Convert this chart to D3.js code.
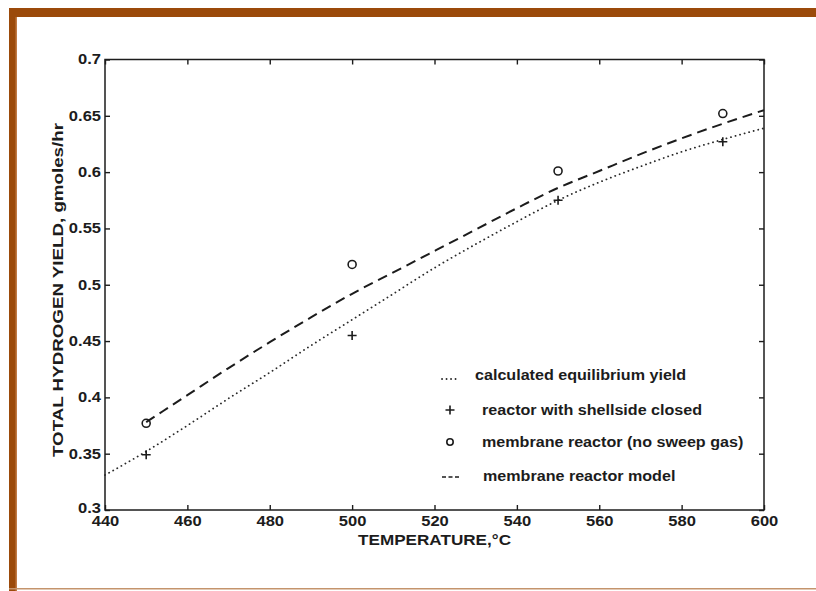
<!DOCTYPE html>
<html><head><meta charset="utf-8">
<script src="https://cdn.jsdelivr.net/npm/d3@7"></script>
<style>
body{margin:0;background:#fff}
text{font-family:"Liberation Sans",Arial,Helvetica,sans-serif;font-weight:bold;fill:#1c1c1c}
</style>
</head><body>
<svg id="chart" width="816" height="591"></svg>
<script>
// ---- data ----
const pointTemps = [450, 500, 550, 590];
const shellsideClosed = [0.349, 0.455, 0.575, 0.627];
const membraneNoSweep = [0.377, 0.518, 0.601, 0.652];
const equilTemps = [440,450,460,470,480,490,500,510,520,530,540,550,560,570,580,590,600];
const equilYield = [0.331,0.352,0.375,0.399,0.422,0.446,0.469,0.492,0.515,0.536,0.556,0.575,0.591,0.605,0.618,0.629,0.639];
const modelTemps = [450,460,470,480,490,500,510,520,530,540,550,560,570,580,590,600];
const modelYield = [0.378,0.402,0.426,0.449,0.471,0.492,0.511,0.530,0.549,0.568,0.586,0.601,0.616,0.630,0.643,0.655];
const xTickValues = [440,460,480,500,520,540,560,580,600];
const yTickValues = [0.3,0.35,0.4,0.45,0.5,0.55,0.6,0.65,0.7];
const legendLabels = ["calculated equilibrium yield","reactor with shellside closed","membrane reactor (no sweep gas)","membrane reactor model"];
const xTitle = "TEMPERATURE,\u00B0C";
const yTitle = "TOTAL HYDROGEN YIELD, gmoles/hr";

// ---- layout ----
const svg = d3.select("#chart");
const x = d3.scaleLinear().domain([440,600]).range([105,764]);
const y = d3.scaleLinear().domain([0.3,0.7]).range([510,59.5]);
const ink = "#1c1c1c";

function stretch(sel, f){
  sel.each(function(){
    const w = this.getComputedTextLength();
    d3.select(this).attr("textLength", w*f).attr("lengthAdjust","spacingAndGlyphs");
  });
}

// slide frame
svg.append("rect").attr("x",0).attr("y",0).attr("width",816).attr("height",591).attr("fill","#fff");
svg.append("rect").attr("x",9).attr("y",8).attr("width",807).attr("height",9).attr("fill","#9b4a0a");
svg.append("rect").attr("x",9).attr("y",8).attr("width",8).attr("height",583).attr("fill","#9b4a0a");
svg.append("rect").attr("x",15.5).attr("y",17).attr("width",1.5).attr("height",574).attr("fill","#c07a45");
svg.append("rect").attr("x",9).attr("y",588).attr("width",807).attr("height",1.5).attr("fill","#c4946c");

// axes
const gB = svg.append("g").attr("transform",`translate(0,${y(0.3)})`)
  .call(d3.axisBottom(x).tickValues(xTickValues).tickSizeInner(-5).tickSizeOuter(0).tickPadding(6).tickFormat(d3.format("d")));
const gT = svg.append("g").attr("transform",`translate(0,${y(0.7)})`)
  .call(d3.axisTop(x).tickValues(xTickValues).tickSizeInner(-5).tickSizeOuter(0).tickFormat(""));
const gL = svg.append("g").attr("transform",`translate(${x(440)},0)`)
  .call(d3.axisLeft(y).tickValues(yTickValues).tickSizeInner(-5).tickSizeOuter(0).tickPadding(4).tickFormat(d3.format(".2~f")));
const gR = svg.append("g").attr("transform",`translate(${x(600)},0)`)
  .call(d3.axisRight(y).tickValues(yTickValues).tickSizeInner(-5).tickSizeOuter(0).tickFormat(""));
[gB,gT,gL,gR].forEach(g=>{
  g.select(".domain").remove();
  g.selectAll("line").attr("stroke",ink).attr("stroke-width",1.4);
  g.selectAll("text").attr("font-size",14).attr("fill",ink).style("font-family",null);
  stretch(g.selectAll("text"),1.18);
});
// lift the lowest y label slightly, as in the reference
gL.selectAll("text").filter(d=>d===0.3).attr("dy","0.2em");
svg.append("rect").attr("x",x(440)).attr("y",y(0.7)).attr("width",x(600)-x(440)).attr("height",y(0.3)-y(0.7))
  .attr("fill","none").attr("stroke",ink).attr("stroke-width",1.5);

// titles
const xt = svg.append("text").attr("x",(x(440)+x(600))/2).attr("y",545).attr("text-anchor","middle").attr("font-size",14).text(xTitle);
xt.attr("textLength",153).attr("lengthAdjust","spacingAndGlyphs");
const yt = svg.append("text").attr("transform","translate(63,290) rotate(-90)").attr("text-anchor","middle").attr("font-size",14).text(yTitle);
yt.attr("textLength",334).attr("lengthAdjust","spacingAndGlyphs");

// lines
const line = d3.line().x(d=>x(d[0])).y(d=>y(d[1])).curve(d3.curveMonotoneX);
svg.append("path").datum(d3.zip(equilTemps,equilYield)).attr("d",line)
  .attr("fill","none").attr("stroke","#2a2a2a").attr("stroke-width",1.8).attr("stroke-linecap","round").attr("stroke-dasharray","0.1,4.6");
svg.append("path").datum(d3.zip(modelTemps,modelYield)).attr("d",line)
  .attr("fill","none").attr("stroke","#1c1c1c").attr("stroke-width",2).attr("stroke-dasharray","10,6");

// markers
function plus(g, cx, cy, s){
  g.append("path").attr("d",`M${cx-s},${cy}H${cx+s}M${cx},${cy-s}V${cy+s}`).attr("stroke",ink).attr("stroke-width",1.6).attr("fill","none");
}
const gm = svg.append("g");
pointTemps.forEach((t,i)=>plus(gm, x(t), y(shellsideClosed[i]), 4.5));
gm.selectAll("circle").data(d3.zip(pointTemps,membraneNoSweep)).join("circle")
  .attr("cx",d=>x(d[0])).attr("cy",d=>y(d[1])).attr("r",4).attr("fill","none").attr("stroke",ink).attr("stroke-width",1.6);

// legend
const lg = svg.append("g");
const rowY = [380, 415, 447, 481];
const textX = [475, 482, 482, 483];
lg.append("line").attr("x1",442).attr("x2",460).attr("y1",rowY[0]-1).attr("y2",rowY[0]-1)
  .attr("stroke","#2a2a2a").attr("stroke-width",1.8).attr("stroke-linecap","round").attr("stroke-dasharray","0.1,4.4");
plus(lg, 450, rowY[1]-5, 4.5);
lg.append("circle").attr("cx",450).attr("cy",rowY[2]-5).attr("r",3.2).attr("fill","none").attr("stroke",ink).attr("stroke-width",1.6);
lg.append("line").attr("x1",442).attr("x2",459).attr("y1",rowY[3]-4).attr("y2",rowY[3]-4)
  .attr("stroke",ink).attr("stroke-width",1.5).attr("stroke-dasharray","4,2.5");
legendLabels.forEach((s,i)=>{
  const t = lg.append("text").attr("x",textX[i]).attr("y",rowY[i]).attr("font-size",14).text(s);
  stretch(t,1.15);
});
</script>
</body></html>
